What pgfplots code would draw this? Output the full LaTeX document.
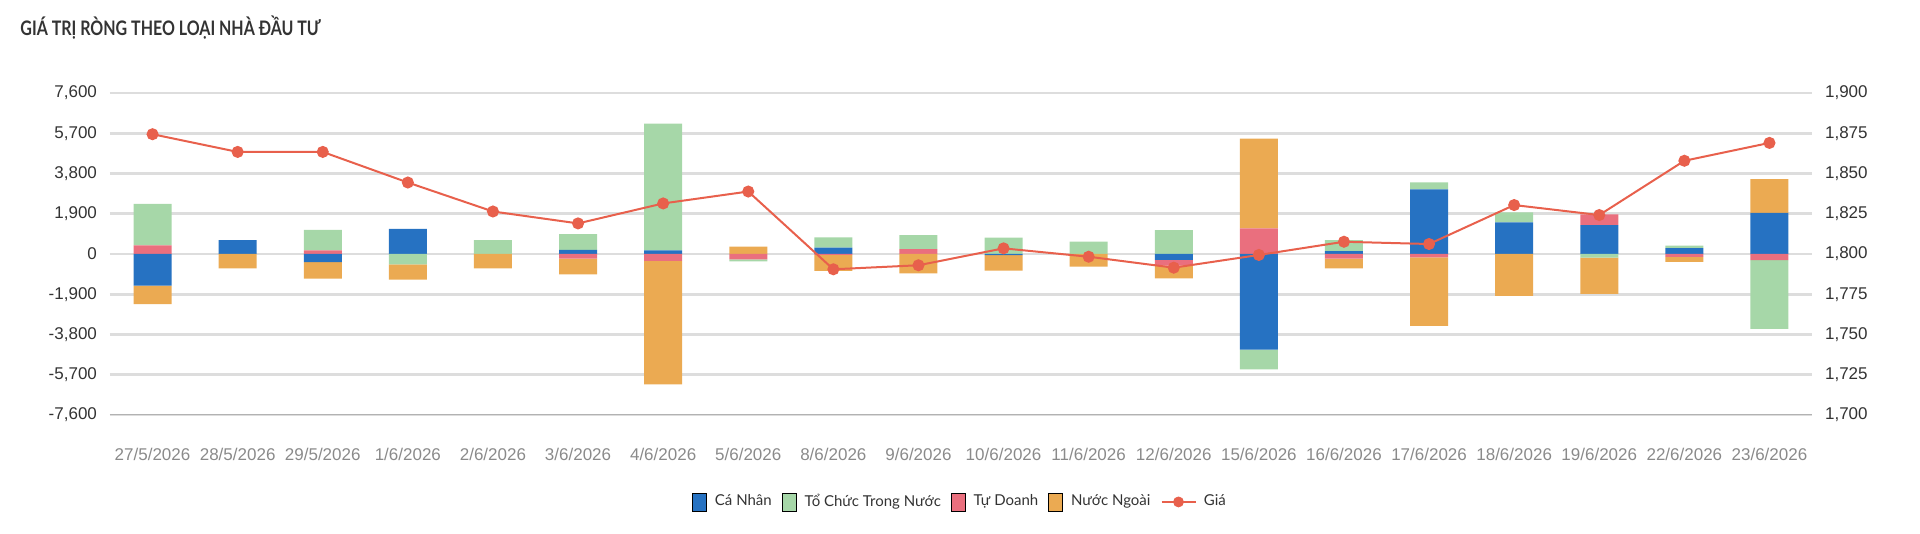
\documentclass[border=0pt]{standalone}
\usepackage{pgfplots}
\pgfplotsset{compat=1.18}
\usepackage{pgfplotstable}
\usepackage{fontspec}
\setmainfont{Liberation Sans}
\newfontfamily\lato{Lato}

\definecolor{cn}{RGB}{38,114,194}
\definecolor{tc}{RGB}{166,215,168}
\definecolor{td}{RGB}{234,111,126}
\definecolor{nn}{RGB}{235,170,82}
\definecolor{gia}{RGB}{232,96,76}
\definecolor{gridc}{RGB}{221,221,221}
\definecolor{xlab}{RGB}{138,138,138}
\definecolor{ylab}{RGB}{51,51,51}

% positive parts, stacked from zero upward: Ca Nhan, Tu Doanh, To Chuc, Nuoc Ngoai
\pgfplotstableread{
x cn td tc nn
0 0 410 1960 0
1 660 0 0 0
2 0 170 970 0
3 1190 0 0 0
4 0 0 660 0
5 190 0 750 0
6 170 0 5980 0
7 0 0 0 345
8 300 0 485 0
9 0 235 660 0
10 0 0 770 0
11 0 0 580 0
12 0 0 1130 0
13 0 1210 0 4240
14 140 0 520 0
15 3045 0 330 0
16 1490 0 470 0
17 1365 500 0 0
18 280 0 110 0
19 1945 0 0 1585
}\postab

% negative parts, stacked from zero downward
\pgfplotstableread{
x cn td tc nn
0 -1490 0 0 -880
1 0 0 0 -675
2 -390 0 0 -770
3 0 0 -490 -720
4 0 0 0 -675
5 0 -220 0 -740
6 0 -330 0 -5820
7 0 -250 -95 0
8 0 -40 0 -760
9 0 0 0 -910
10 -50 0 0 -735
11 0 0 0 -600
12 -280 -270 0 -600
13 -4520 0 -930 0
14 0 -220 0 -455
15 0 -160 0 -3230
16 0 0 0 -1980
17 0 0 -175 -1710
18 0 -140 0 -230
19 0 -285 -3250 0
}\negtab

\pgfplotstableread{
x gia
0 1874.4
1 1863.4
2 1863.4
3 1844.4
4 1826.4
5 1819.0
6 1831.4
7 1838.8
8 1790.5
9 1793.0
10 1803.5
11 1798.3
12 1791.5
13 1799.4
14 1807.6
15 1806.2
16 1830.4
17 1824.2
18 1857.9
19 1869.0
}\giatab

\pgfplotsset{
  frame/.style={scale only axis, width=851pt, height=161pt,
    at={(55pt,59.5pt)}, anchor=south west,
    xmin=-0.5, xmax=19.5},
  bars/.style={frame, ybar stacked, bar width=19pt, ymin=-7600, ymax=7600},
  sqleg/.style={legend image code/.code={\fill[##1] (0pt,-4.5pt) rectangle (7pt,4.5pt); \path (9pt,0pt);}},
}

\begin{document}
\begin{tikzpicture}
\useasboundingbox (0,0) rectangle (960pt,267pt);
\node[anchor=west, inner sep=0pt, font=\lato\bfseries\fontsize{10}{12}\selectfont, text=ylab] at (10pt,253pt) {\scalebox{0.8}[1]{GIÁ TRỊ RÒNG THEO LOẠI NHÀ ĐẦU TƯ}};

% positive stack, grid, left axis, x labels, legend
\begin{axis}[bars,
  axis line style={draw=none},
  tick style={draw=none},
  ytick={-7600,-5700,...,7600},
  ymajorgrids, major grid style={line width=1.4pt, color=gridc},
  xtick={0,...,19},
  xticklabels={27/5/2026,28/5/2026,29/5/2026,1/6/2026,2/6/2026,3/6/2026,4/6/2026,5/6/2026,8/6/2026,9/6/2026,10/6/2026,11/6/2026,12/6/2026,15/6/2026,16/6/2026,17/6/2026,18/6/2026,19/6/2026,22/6/2026,23/6/2026},
  xticklabel style={font=\fontsize{8.5}{10}\selectfont, text=xlab, yshift=-13pt},
  yticklabel style={font=\fontsize{8.5}{10}\selectfont, text=ylab, xshift=-3pt},
  /pgf/number format/.cd, 1000 sep={,}, assume math mode=true,
  /pgfplots/.cd,
  legend style={at={(0.5,-0.27)}, anchor=center, draw=none, fill=none,
    legend columns=-1, font=\lato\fontsize{7.5}{9}\selectfont, text=ylab,
    /tikz/every even column/.append style={column sep=3pt}},
]
\addlegendimage{sqleg, fill=cn}
\addlegendentry{Cá Nhân}
\addlegendimage{sqleg, fill=tc}
\addlegendentry{Tổ Chức Trong Nước}
\addlegendimage{sqleg, fill=td}
\addlegendentry{Tự Doanh}
\addlegendimage{sqleg, fill=nn}
\addlegendentry{Nước Ngoài}
\addlegendimage{legend image code/.code={\draw[gia, line width=1pt] (0pt,0pt) -- (17pt,0pt); \fill[gia] (8.5pt,0pt) circle (2.5pt); \path (19pt,0pt);}}
\addlegendentry{Giá}
\draw[color=black!30, line width=1.4pt] (rel axis cs:0,0) -- (rel axis cs:1,0);
\addplot[fill=cn, draw=none, forget plot] table[x=x, y=cn] \postab;
\addplot[fill=td, draw=none, forget plot] table[x=x, y=td] \postab;
\addplot[fill=tc, draw=none, forget plot] table[x=x, y=tc] \postab;
\addplot[fill=nn, draw=none, forget plot] table[x=x, y=nn] \postab;
\end{axis}

% negative stack
\begin{axis}[bars, hide axis]
\addplot[fill=cn, draw=none] table[x=x, y=cn] \negtab;
\addplot[fill=td, draw=none] table[x=x, y=td] \negtab;
\addplot[fill=tc, draw=none] table[x=x, y=tc] \negtab;
\addplot[fill=nn, draw=none] table[x=x, y=nn] \negtab;
\end{axis}

% price line, right axis
\begin{axis}[frame,
  ymin=1700, ymax=1900,
  axis y line*=right, axis x line=none,
  axis line style={draw=none},
  tick style={draw=none},
  ytick={1700,1725,...,1900},
  yticklabel style={font=\fontsize{8.5}{10}\selectfont, text=ylab, xshift=3pt},
  /pgf/number format/.cd, 1000 sep={,}, assume math mode=true,
]
\addplot[color=gia, line width=1pt, mark=*, mark size=2.5pt, mark options={fill=gia}] table[x=x, y=gia] \giatab;
\end{axis}
\end{tikzpicture}
\end{document}
